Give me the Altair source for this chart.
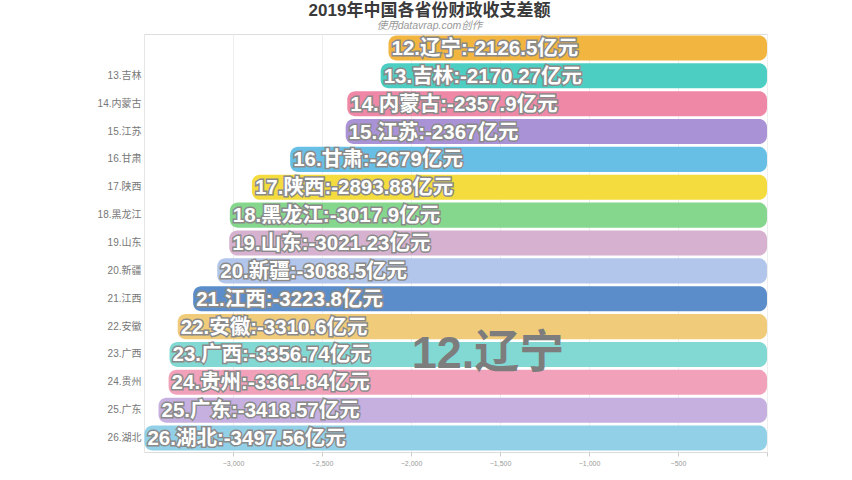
import altair as alt
import pandas as pd

ranks = [12, 13, 14, 15, 16, 17, 18, 19, 20, 21, 22, 23, 24, 25, 26]
provinces = ["辽宁", "吉林", "内蒙古", "江苏", "甘肃", "陕西", "黑龙江", "山东",
             "新疆", "江西", "安徽", "广西", "贵州", "广东", "湖北"]
values = [-2126.5, -2170.27, -2357.9, -2367, -2679, -2893.88, -3017.9, -3021.23,
          -3088.5, -3223.8, -3310.6, -3356.74, -3361.84, -3418.57, -3497.56]
colors = ["#F2B540", "#4CCFC2", "#EE88A6", "#A992D6", "#68BFE6", "#F4DC3E",
          "#86D78E", "#D7B2D0", "#B2C5EA", "#5B8DCA", "#F0CC7A", "#82D9D4",
          "#F1A2BA", "#C5B0E0", "#92D0E8"]
x_ticks = [-3000, -2500, -2000, -1500, -1000, -500, 0]

FONT = "Liberation Sans, 'Noto Sans CJK SC'"

df = pd.DataFrame({
    "rank": ranks,
    "prov": provinces,
    "value": values,
})
df["ylab"] = [f"{r}.{p}" for r, p in zip(ranks, provinces)]
df["label"] = [f"{r}.{p}:{v:g}亿元" for r, p, v in zip(ranks, provinces, values)]
df["zero"] = 0

order = df["ylab"].tolist()

annot = pd.DataFrame({"x": [-1567], "ylab": ["23.广西"], "text": ["12.辽宁"]})

yenc = alt.Y("ylab:N", sort=order, title=None,
             scale=alt.Scale(paddingInner=0.1, paddingOuter=0.05),
             axis=alt.Axis(labelExpr="indexof(datum.label, '12.') == 0 ? '' : datum.label",
                           labelFontSize=10, labelColor="#777", ticks=False,
                           domainColor="#e6e6e6", labelPadding=3,
                           labelFont=FONT))
xenc = alt.X("value:Q", title=None,
             scale=alt.Scale(domain=[-3500, 0], nice=False),
             axis=alt.Axis(values=x_ticks, grid=True, gridColor="#eeeeee",
                           labelExpr="datum.value == 0 ? '' : format(datum.value, ',')",
                           labelFontSize=7, labelColor="#999", tickColor="#ccc",
                           tickSize=4, domain=False, labelPadding=3))

bars = alt.Chart(df).mark_bar(cornerRadius=8).encode(
    x=xenc,
    x2="zero:Q",
    y=yenc,
    color=alt.Color("rank:O", scale=alt.Scale(domain=ranks, range=colors), legend=None),
)

outline = alt.Chart(df).mark_text(
    align="left", baseline="middle", dx=3, dy=1, fontSize=20.5, fontWeight="bold",
    font=FONT, stroke="#8a8a8a", strokeWidth=3, fill="#8a8a8a",
).encode(x="value:Q", y=alt.Y("ylab:N", sort=order), text="label:N")

labels = alt.Chart(df).mark_text(
    align="left", baseline="middle", dx=3, dy=1, fontSize=20.5, fontWeight="bold",
    font=FONT, fill="white",
).encode(x="value:Q", y=alt.Y("ylab:N", sort=order), text="label:N")

big = alt.Chart(annot).mark_text(
    align="center", baseline="middle", fontSize=45, fontWeight="bold",
    font=FONT, color="#7d7d7d",
).encode(x="x:Q", y=alt.Y("ylab:N", sort=order), text="text:N")

chart = alt.layer(bars, outline, labels, big).properties(
    width=623,
    height=418,
    autosize=alt.AutoSizeParams(type="none"),
    padding={"left": 144, "top": 34, "right": 85, "bottom": 28},
    title=alt.TitleParams(
        text="2019年中国各省份财政收支差额",
        subtitle="使用datavrap.com创作",
        anchor="middle", dx=-26, offset=2,
        fontSize=17, fontWeight="bold", color="#3a3a3a", font=FONT,
        subtitleFontSize=10.5, subtitleColor="#999", subtitleFontStyle="italic",
        subtitleFont=FONT, subtitlePadding=1,
    ),
).configure_view(stroke=None).configure(background="white")

chart.save("out.html", embed_options={"renderer": "svg", "actions": False})
